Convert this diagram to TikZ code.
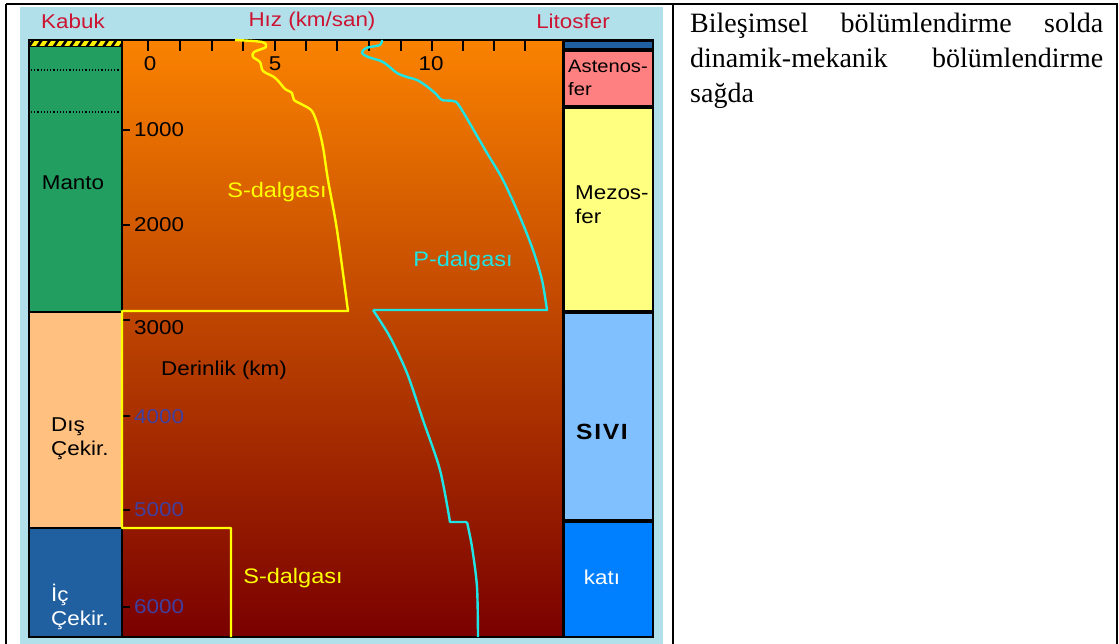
\documentclass[tikz,border=0pt]{standalone}
\usepackage{fontspec}
\setmainfont{Liberation Serif}
\setsansfont{Liberation Sans}
\definecolor{bgblue}{RGB}{178,224,234}
\definecolor{titlered}{RGB}{204,20,50}
\definecolor{manto}{RGB}{34,158,96}
\definecolor{peach}{RGB}{255,192,128}
\definecolor{icblue}{RGB}{32,96,160}
\definecolor{pinkc}{RGB}{255,128,128}
\definecolor{yellowc}{RGB}{255,255,128}
\definecolor{lightb}{RGB}{128,192,255}
\definecolor{katic}{RGB}{0,128,255}
\definecolor{swave}{RGB}{255,255,0}
\definecolor{pwave}{RGB}{32,228,228}
\definecolor{numblue}{RGB}{64,64,160}
\definecolor{otop}{RGB}{250,130,0}
\definecolor{omid}{RGB}{195,65,0}
\definecolor{obot}{RGB}{122,0,0}
\begin{document}
\begin{tikzpicture}[x=1pt,y=-1pt,
  lbl/.style={font=\sffamily\fontsize{20}{24}\selectfont, inner sep=0pt, xscale=1.12},
  cell/.style={draw=black, line width=1.5pt},
  wave/.style={line width=2.4pt, line join=round},
  tick/.style={line width=2.2pt}]
\useasboundingbox (0,0) rectangle (1119,644);
% background of picture
\fill[bgblue] (20,7) rectangle (663,644);
% table rules
\draw[line width=2pt] (6,4) -- (1118,4);
\draw[line width=2pt] (6,4) -- (6,644);
\draw[line width=2pt] (673,4) -- (673,644);
\draw[line width=2pt] (1117,4) -- (1117,644);
% titles
\node[lbl, text=titlered] (kabuk) at (73,21) {Kabuk};
\node[lbl, text=titlered] (hiz) at (312,21) {Hız (km/san)};
\node[lbl, text=titlered] (lito) at (573,21) {Litosfer};
% gradient area
\shade[top color=otop, middle color=omid, bottom color=obot] (122,40) rectangle (563,637);
% left column
\fill[manto] (29,40) rectangle (122,312);
\fill[peach] (29,312) rectangle (122,528);
\fill[icblue] (29,528) rectangle (122,637);
\fill[yellow] (29,40) rectangle (122,47);
\begin{scope}
\clip (29,40) rectangle (122,47);
\foreach \i in {0,...,12} {\draw[line width=2.6pt] (28+8.3*\i,48) -- (34+8.3*\i,39);}
\end{scope}
\draw[black, line width=1pt] (29,47) -- (122,47);
\draw[black, dotted, line width=1.2pt] (31,70) -- (120,70);
\draw[black, dotted, line width=1.2pt] (31,112) -- (120,112);
\draw[black, line width=1.2pt] (29,312) -- (122,312);
\draw[black, line width=1.2pt] (29,528) -- (122,528);
% right column cells
\draw[cell, fill=icblue] (564,41) rectangle (653,49);
\draw[cell, fill=pinkc] (564,51) rectangle (653,106);
\draw[cell, fill=yellowc] (564,108) rectangle (653,311);
\draw[cell, fill=lightb] (564,313) rectangle (653,520);
\draw[cell, fill=katic] (564,522) rectangle (653,637);
% frame
\draw[black, line width=1.6pt] (29,40) rectangle (653,637);
\draw[black, line width=1.4pt] (122,40) -- (122,637);
\draw[black, line width=1.4pt] (563,40) -- (563,637);
% top ticks
\foreach \x in {148,180,212,243,275,306,337,369,401,432,463,494,525}
  {\draw[tick] (\x,40) -- (\x,51);}
\node[lbl] (v0) at (150,64) {0};
\node[lbl] (v5) at (275,64) {5};
\node[lbl] (v10) at (431,64) {10};
% depth ticks and labels
\foreach \y in {130,225,320,416,510,607} {\draw[tick] (122,\y) -- (130,\y);}
\node[lbl, anchor=west] (d1) at (134,130) {1000};
\node[lbl, anchor=west] (d2) at (134,225) {2000};
\node[lbl, anchor=west] (d3) at (134,328) {3000};
\node[lbl, anchor=west, text=numblue] (d4) at (134,417) {4000};
\node[lbl, anchor=west, text=numblue] (d5) at (134,510) {5000};
\node[lbl, anchor=west, text=numblue] (d6) at (134,607) {6000};
\node[lbl] (der) at (224,370) {Derinlik (km)};
% S wave
\draw[wave, swave] plot[smooth, tension=0.5] coordinates {(235,40) (262,42) (266,47) (254,52) (253,57) (260,62) (263,71) (274,77) (280,83) (285,89) (292,93) (294,100) (303,105) (312,111) (318,126) (323,147) (328,180) (337,230) (348,311)}
  -- (122,311) -- (122,528) -- (231,528) -- (231,637);
% P wave
\draw[wave, pwave] plot[smooth, tension=0.5] coordinates {(382,40) (380,45) (366,48) (362,53) (368,57) (383,62) (397,73) (407,77) (417,80) (425,85) (435,93) (442,100) (453,101) (460,107) (487,153) (503,180) (520,217) (533,250) (542,280) (547,310)}
  -- (373,310);
\draw[wave, pwave] plot[smooth, tension=0.5] coordinates {(373,310) (390,337) (407,373) (423,420) (440,470) (450,522)}
  -- (467,522);
\draw[wave, pwave] plot[smooth, tension=0.5] coordinates {(467,522) (472,547) (477,587) (478,637)};
% wave labels
\node[lbl, text=swave, font=\sffamily\fontsize{21}{24}\selectfont] (sl1) at (277,192) {S-dalgası};
\node[lbl, text=pwave, font=\sffamily\fontsize{21}{24}\selectfont] (pl) at (463,261) {P-dalgası};
\node[lbl, text=swave, font=\sffamily\fontsize{21}{24}\selectfont] (sl2) at (293,578) {S-dalgası};
% left labels
\node[lbl] (mant) at (73,183) {Manto};
\node[lbl, anchor=west, align=left] (dis) at (51,439) {Dış\\Çekir.};
\node[lbl, anchor=west, align=left, text=white] (ic) at (51,607) {İç\\Çekir.};
% right labels
\node[lbl, anchor=west, align=left, font=\sffamily\fontsize{18}{23}\selectfont] (ast) at (568,78) {Astenos-\\fer};
\node[lbl, anchor=west, align=left] (mez) at (575,205) {Mezos-\\fer};
\node[lbl, font=\sffamily\bfseries\fontsize{22}{24}\selectfont] (sivi) at (602,432) {S\kern1.5pt I\kern1.5pt V\kern1.5pt I};
\node[lbl, text=white] (kati) at (602,577) {katı};
% right text
\node[anchor=north west, inner sep=0pt, text width=413pt, align=justify,
  font=\rmfamily\fontsize{28}{35}\selectfont] (txt) at (690,13)
  {\hyphenpenalty=10000\exhyphenpenalty=10000 Bileşimsel bölümlendirme solda dinamik-mekanik bölümlendirme sağda};
\end{tikzpicture}
\end{document}
